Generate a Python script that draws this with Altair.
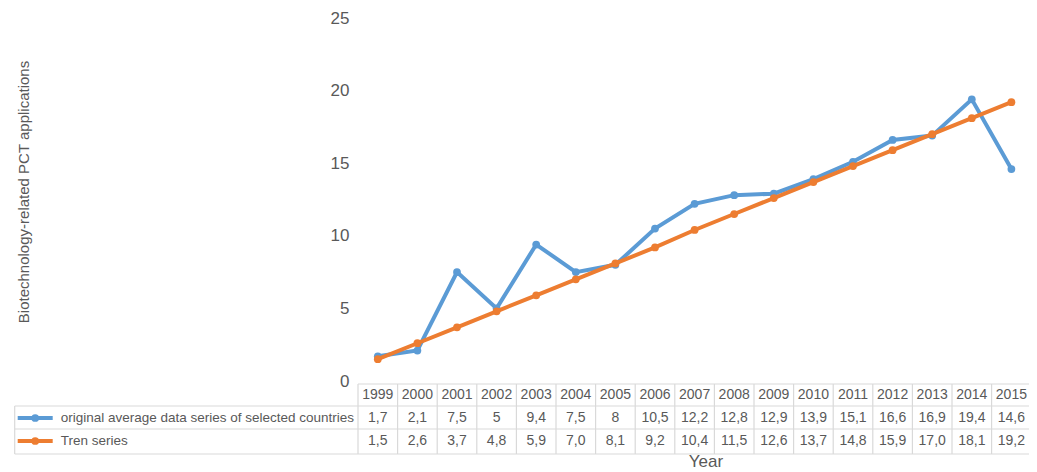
import altair as alt
import pandas as pd

years = list(range(1999, 2016))
original = [1.7, 2.1, 7.5, 5, 9.4, 7.5, 8, 10.5, 12.2, 12.8, 12.9, 13.9, 15.1, 16.6, 16.9, 19.4, 14.6]
trend = [1.5, 2.6, 3.7, 4.8, 5.9, 7.0, 8.1, 9.2, 10.4, 11.5, 12.6, 13.7, 14.8, 15.9, 17.0, 18.1, 19.2]
original_labels = ["1,7", "2,1", "7,5", "5", "9,4", "7,5", "8", "10,5", "12,2", "12,8", "12,9",
                   "13,9", "15,1", "16,6", "16,9", "19,4", "14,6"]
trend_labels = ["1,5", "2,6", "3,7", "4,8", "5,9", "7,0", "8,1", "9,2", "10,4", "11,5", "12,6",
                "13,7", "14,8", "15,9", "17,0", "18,1", "19,2"]
series_names = ["original average data series of selected countries", "Tren series"]
colors = ["#5B9BD5", "#ED7D31"]
y_ticks = [0, 5, 10, 15, 20, 25]

LEFT = 350
W = 671
H = 363
COL = 39.6
FONT = "Liberation Sans"
GRAY = "#595959"
GRID = "#D9D9D9"

x_scale = alt.Scale(domain=[1998.5, 1998.5 + W / COL], nice=False, zero=False)
y_scale = alt.Scale(domain=[0, 25], nice=False)

df = pd.DataFrame({
    "year": years * 2,
    "value": original + trend,
    "series": [series_names[0]] * len(years) + [series_names[1]] * len(years),
})
tbl = pd.DataFrame({
    "year": years,
    "ylabel": [str(y) for y in years],
    "olabel": original_labels,
    "tlabel": trend_labels,
})
bounds = pd.DataFrame({"b": [y - 0.5 for y in years] + [years[-1] + 0.5]})
one = pd.DataFrame({"k": [0]})

X = alt.X("year:Q", scale=x_scale, axis=None)
LX = 14.7 - 8 - LEFT  # left edge of legend cells, relative to plot origin


def series_layer(i):
    d = df[df["series"] == series_names[i]]
    base = alt.Chart(d).encode(
        x=X,
        y=alt.Y("value:Q", scale=y_scale,
                axis=alt.Axis(values=y_ticks, grid=False, domain=False, ticks=False,
                              labelFontSize=17, labelColor=GRAY, labelFont=FONT,
                              labelPadding=9, title="Biotechnology-related PCT applications",
                              titleFont=FONT, titleFontSize=15, titleColor=GRAY,
                              titleFontWeight="normal", titleX=LX + 17, titleY=H / 2 - 8)),
    )
    line = base.mark_line(color=colors[i], strokeWidth=4)
    pts = base.mark_point(color=colors[i], filled=True, opacity=1, size=60)
    return line + pts


# table grid
vlines = alt.Chart(bounds).mark_rule(color=GRID, strokeWidth=1.2).encode(
    x=alt.X("b:Q", scale=x_scale, axis=None), y=alt.value(366), y2=alt.value(436))
hl = []
for yy, x0 in [(366, 0), (388, LX), (411, LX), (436, LX)]:
    hl.append(alt.Chart(one).mark_rule(color=GRID, strokeWidth=1.2).encode(
        x=alt.value(x0), x2=alt.value(W), y=alt.value(yy)))
left_v = alt.Chart(one).mark_rule(color=GRID, strokeWidth=1.2).encode(
    x=alt.value(LX), y=alt.value(388), y2=alt.value(436))

txt_style = dict(font=FONT, fontSize=14, color=GRAY, baseline="middle", align="center")
header = alt.Chart(tbl).mark_text(**txt_style).encode(x=X, y=alt.value(377), text="ylabel:N")
row1 = alt.Chart(tbl).mark_text(**txt_style).encode(x=X, y=alt.value(400), text="olabel:N")
row2 = alt.Chart(tbl).mark_text(**txt_style).encode(x=X, y=alt.value(423), text="tlabel:N")

leg = []
for i, yy in enumerate([400, 423]):
    leg.append(alt.Chart(one).mark_rule(color=colors[i], strokeWidth=4).encode(
        x=alt.value(LX + 3), x2=alt.value(LX + 38), y=alt.value(yy)))
    leg.append(alt.Chart(one).mark_point(color=colors[i], filled=True, opacity=1, size=60).encode(
        x=alt.value(LX + 20.5), y=alt.value(yy)))
    leg.append(alt.Chart(pd.DataFrame({"t": [series_names[i]]})).mark_text(
        font=FONT, fontSize=13.5, color=GRAY, baseline="middle", align="left").encode(
        x=alt.value(LX + 46), y=alt.value(yy), text="t:N"))

year_title = alt.Chart(pd.DataFrame({"t": ["Year"]})).mark_text(
    font=FONT, fontSize=17, color=GRAY, baseline="middle", align="center").encode(
    x=alt.value(348), y=alt.value(444), text="t:N")

chart = alt.layer(
    vlines, *hl, left_v, header, row1, row2, *leg, year_title,
    series_layer(0), series_layer(1),
).properties(
    width=W, height=H,
    autosize=alt.AutoSizeParams(type="none"),
    padding={"left": LEFT, "top": 10, "right": 0, "bottom": 92},
).configure(
    background="white",
    view=alt.ViewConfig(stroke="transparent", strokeWidth=0),
)

chart.save("out.html", embed_options={"renderer": "svg", "actions": False})
